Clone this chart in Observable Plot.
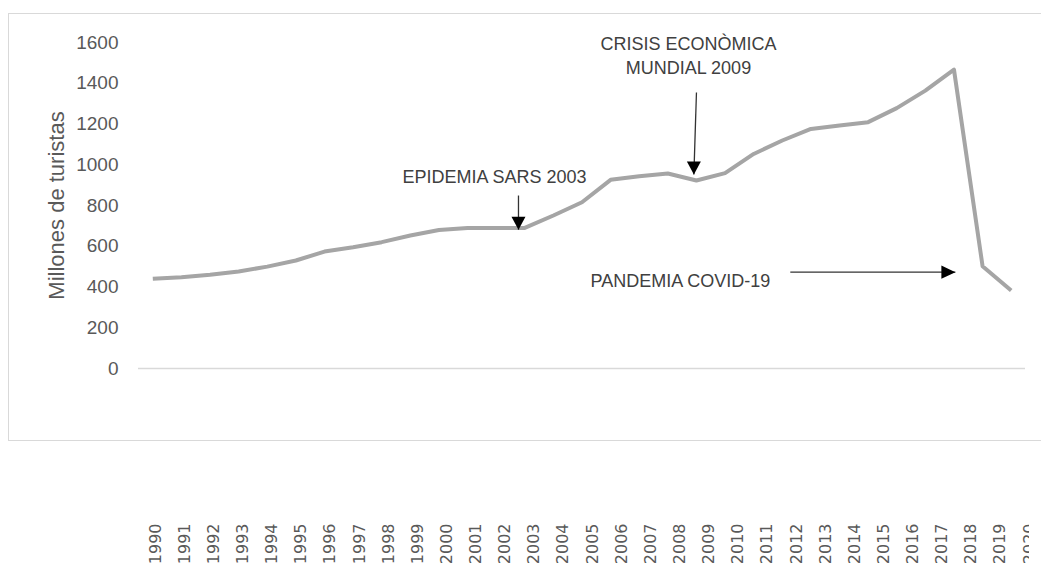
<!DOCTYPE html>
<html>
<head>
<meta charset="utf-8">
<script src="https://cdn.jsdelivr.net/npm/d3@7"></script>
<script src="https://cdn.jsdelivr.net/npm/@observablehq/plot@0.6"></script>
<style>
  html, body { margin: 0; padding: 0; background: #fff; }
  #wrap { position: relative; width: 1041px; height: 566px; overflow: hidden; background: #fff; }
  #box { position: absolute; left: 8px; top: 13px; width: 1060px; height: 426px; border: 1.5px solid #d9d9d9; }
  #chart { position: absolute; left: 0; top: 0; width: 1041px; }
  #labels { position: absolute; left: 0; top: 500px; width: 1029px; height: 66px; overflow: hidden; }
  svg { max-width: none !important; }
</style>
</head>
<body>
<div id="wrap">
  <div id="box"></div>
  <div id="chart"></div>
  <div id="labels"></div>
</div>
<script>
// ---- data ----
const years = [1990,1991,1992,1993,1994,1995,1996,1997,1998,1999,2000,2001,2002,2003,2004,2005,2006,2007,2008,2009,2010,2011,2012,2013,2014,2015,2016,2017,2018,2019,2020];
const tourists = [440,448,460,476,500,530,574,595,620,653,680,689,690,690,751,816,926,944,957,923,959,1053,1119,1176,1193,1209,1278,1364,1467,502,383];
const yTicks = [0,200,400,600,800,1000,1200,1400,1600];
const yLabel = "Millones de turistas";
const yearLabels = ["1990","1991","1992","1993","1994","1995","1996","1997","1998","1999","2000","2001","2002","2003","2004","2005","2006","2007","2008","2009","2010","2011","2012","2013","2014","2015","2016","2017","2018","2019","2020"];

// annotations (anchored in data units)
const annLabels = ["EPIDEMIA SARS 2003", "CRISIS ECONÒMICA\nMUNDIAL 2009", "PANDEMIA COVID-19"];
const annYears  = [2001.94, 2008.72, 2008.44];
const annValues = [947, 1542, 440];

const arrowX1 = [2002.78, 2009.0, 2012.28];
const arrowY1 = [849, 1355, 473];
const arrowX2 = [2002.78, 2008.91, 2018.05];
const arrowY2 = [681, 952, 473];
const arrowDir = ["down", "down", "right"];

// ---- build tables ----
const series = years.map((y, i) => ({year: y, value: tourists[i]}));
const ann = annLabels.map((t, i) => ({label: t, x: annYears[i], y: annValues[i]}));
const arrows = arrowX1.map((x, i) => ({x1: x, y1: arrowY1[i], x2: arrowX2[i], y2: arrowY2[i], dir: arrowDir[i]}));

// custom filled triangle symbols with the tip at the origin
const triDown = {draw(ctx, size) { const r = Math.sqrt(size / Math.PI); ctx.moveTo(-r, -1.85 * r); ctx.lineTo(r, -1.85 * r); ctx.lineTo(0, 0); ctx.closePath(); }};
const triRight = {draw(ctx, size) { const r = Math.sqrt(size / Math.PI); ctx.moveTo(-2 * r, -r * 0.95); ctx.lineTo(-2 * r, r * 0.95); ctx.lineTo(0, 0); ctx.closePath(); }};

const chart = Plot.plot({
  width: 1041,
  height: 445,
  marginTop: 42,
  marginBottom: 77,
  marginLeft: 138,
  marginRight: 16,
  style: {fontFamily: "Liberation Sans, Arial, sans-serif", fontSize: "19px", background: "transparent", color: "#595959", maxWidth: "none"},
  x: {type: "linear", domain: [1989.5, 2020.5], axis: null},
  y: {domain: [0, 1600], axis: null},
  marks: [
    Plot.ruleY([0], {stroke: "#d9d9d9", strokeWidth: 1.5}),
    Plot.axisY({ticks: yTicks, tickSize: 0, tickPadding: 20, tickFormat: d => String(d), fontSize: 19, fill: "#595959", label: null}),
    Plot.text([yLabel], {frameAnchor: "left", dx: -82, rotate: -90, textAnchor: "middle", lineAnchor: "middle", fontSize: 22, fill: "#595959"}),
    Plot.line(series, {x: "year", y: "value", stroke: "#a5a5a5", strokeWidth: 4, strokeLinejoin: "round", strokeLinecap: "butt"}),
    Plot.link(arrows, {x1: "x1", y1: "y1", x2: "x2", y2: "y2", stroke: "#333333", strokeWidth: 1.3}),
    Plot.dot(arrows.filter(d => d.dir === "down"), {x: "x2", y: "y2", r: 7, symbol: triDown, fill: "#000", stroke: "none"}),
    Plot.dot(arrows.filter(d => d.dir === "right"), {x: "x2", y: "y2", r: 7, symbol: triRight, fill: "#000", stroke: "none"}),
    Plot.text(ann, {x: "x", y: "y", text: "label", fontSize: 18, lineHeight: 1.36, fill: "#404040", lineAnchor: "middle", textAnchor: "middle"})
  ]
});
document.getElementById("chart").appendChild(chart);

const labels = Plot.plot({
  width: 1041,
  height: 66,
  marginTop: 23,
  marginBottom: 0,
  marginLeft: 155,
  marginRight: 12,
  style: {fontFamily: "DejaVu Sans, sans-serif", background: "transparent", maxWidth: "none"},
  x: {type: "linear", domain: [1990, 2020], axis: null},
  y: {axis: null},
  marks: [
    Plot.text(yearLabels, {x: d => +d, text: d => d, frameAnchor: "top", rotate: -90, textAnchor: "end", lineAnchor: "middle", fontSize: 16, fill: "#595959"})
  ]
});
document.getElementById("labels").appendChild(labels);
</script>
</body>
</html>
